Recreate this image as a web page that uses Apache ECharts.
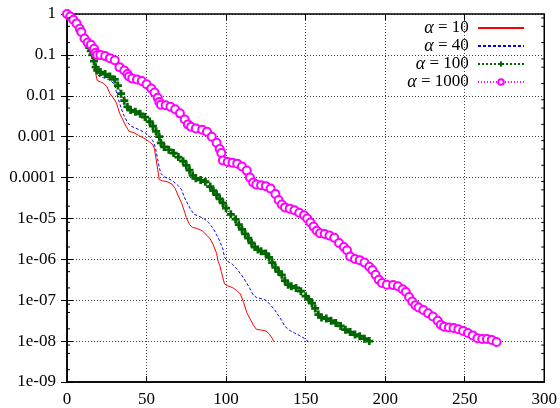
<!DOCTYPE html>
<html>
<head>
<meta charset="utf-8">
<script src="https://cdn.jsdelivr.net/npm/echarts@6/dist/echarts.min.js"></script>
<style>html,body{margin:0;padding:0;background:#fff}#c{width:560px;height:408px}</style>
</head>
<body>
<div id="c"></div>
<script>
// y values stored as log10 exponents.
const startX   = [0, 2, 4, 6, 8, 9, 11, 13];
const startLog = [0, -0.06, -0.14, -0.23, -0.36, -0.44, -0.6, -0.7];

const a10X   = [14,15,16,17,18,19,21,23,25,27,29,31,33,35,37,39,42,45,48,51,54,55,56,57,58,60,63,66,68,70,72,74,75,77,79,82,85,88,90,92,94,95,96,97,98,99,101,104,107,109,111,113,115,117,119,122,125,127,129,130];
const a10Log = [-0.84,-0.92,-1.05,-1.25,-1.45,-1.63,-1.66,-1.7,-1.77,-1.95,-2.05,-2.17,-2.42,-2.58,-2.74,-2.87,-2.9,-2.97,-3.03,-3.1,-3.2,-3.3,-3.55,-3.8,-4.05,-4.08,-4.1,-4.16,-4.27,-4.45,-4.62,-4.85,-4.98,-5.15,-5.22,-5.25,-5.3,-5.42,-5.5,-5.65,-5.85,-6.05,-6.15,-6.3,-6.45,-6.6,-6.65,-6.69,-6.77,-6.85,-7.05,-7.3,-7.45,-7.6,-7.71,-7.73,-7.75,-7.82,-7.93,-8.01];

const a40X   = [14,15,16,17,18,19,20,23,26,28,30,31,32,34,36,38,40,43,46,49,52,54,55,56,57,58,59,61,64,67,70,72,74,76,78,80,83,86,89,92,94,96,98,99,101,104,107,110,113,115,117,119,122,125,128,131,133,135,137,140,143,146,149,152];
const a40Log = [-0.82,-0.88,-1.0,-1.15,-1.3,-1.42,-1.52,-1.56,-1.6,-1.65,-1.73,-1.9,-2.05,-2.3,-2.5,-2.65,-2.74,-2.79,-2.84,-2.9,-3.0,-3.1,-3.2,-3.35,-3.55,-3.75,-3.9,-3.98,-4.03,-4.1,-4.2,-4.3,-4.5,-4.65,-4.8,-4.9,-4.95,-5.0,-5.1,-5.25,-5.4,-5.55,-5.75,-5.95,-6.05,-6.12,-6.25,-6.4,-6.58,-6.72,-6.87,-6.93,-6.96,-7.0,-7.12,-7.26,-7.38,-7.5,-7.64,-7.74,-7.8,-7.86,-7.93,-8.02];

const a100X   = [14,15,16,17,18,19,21,24,27,30,32,34,36,38,40,43,46,49,52,54,56,58,59,61,64,67,70,73,75,77,79,81,84,87,90,92,94,96,98,100,103,106,108,110,112,114,116,118,120,122,125,127,129,131,133,135,137,139,141,144,147,150,152,154,156,158,160,163,166,169,172,175,178,181,184,187,190];
const a100Log = [-0.82,-0.9,-1.0,-1.15,-1.3,-1.38,-1.42,-1.47,-1.53,-1.6,-1.75,-1.95,-2.12,-2.27,-2.35,-2.39,-2.44,-2.52,-2.63,-2.74,-2.87,-3.0,-3.15,-3.25,-3.32,-3.4,-3.5,-3.6,-3.7,-3.82,-3.95,-4.02,-4.06,-4.1,-4.22,-4.32,-4.42,-4.52,-4.62,-4.75,-4.9,-5.02,-5.15,-5.27,-5.38,-5.48,-5.6,-5.7,-5.76,-5.8,-5.86,-5.95,-6.08,-6.2,-6.3,-6.38,-6.52,-6.62,-6.66,-6.7,-6.78,-6.9,-6.98,-7.07,-7.2,-7.35,-7.42,-7.45,-7.5,-7.56,-7.63,-7.72,-7.78,-7.84,-7.88,-7.94,-8.0];

const a1000X   = [15,17,18,19,21,24,27,30,33,36,38,39,41,44,47,50,53,55,57,58,59,62,65,68,71,74,76,78,81,85,88,91,94,96,97,98,101,104,107,110,113,115,117,119,122,125,128,131,133,135,137,140,143,146,149,151,153,155,157,159,162,165,168,171,174,176,178,181,184,187,190,192,194,196,198,201,205,208,211,213,215,217,219,221,224,227,230,233,235,237,240,243,246,249,252,255,258,261,264,267,270];
const a1000Log = [-0.75,-0.85,-0.95,-1.0,-1.0,-1.03,-1.08,-1.13,-1.3,-1.38,-1.47,-1.53,-1.58,-1.6,-1.64,-1.72,-1.82,-1.92,-2.05,-2.15,-2.22,-2.23,-2.27,-2.33,-2.43,-2.58,-2.7,-2.76,-2.8,-2.83,-2.88,-3.0,-3.15,-3.3,-3.4,-3.58,-3.62,-3.64,-3.66,-3.73,-3.83,-4.0,-4.12,-4.17,-4.19,-4.21,-4.27,-4.4,-4.55,-4.66,-4.73,-4.76,-4.8,-4.86,-4.92,-5.0,-5.1,-5.2,-5.3,-5.36,-5.38,-5.42,-5.47,-5.6,-5.7,-5.78,-5.93,-5.99,-6.02,-6.08,-6.18,-6.26,-6.38,-6.5,-6.58,-6.62,-6.63,-6.66,-6.73,-6.8,-6.92,-7.03,-7.12,-7.18,-7.24,-7.32,-7.4,-7.5,-7.6,-7.65,-7.67,-7.68,-7.71,-7.75,-7.8,-7.86,-7.93,-7.95,-7.95,-7.97,-8.02];

const seriesNames = ['α = 10', 'α = 40', 'α = 100', 'α = 1000'];
const yTickLabels = ['1e-09','1e-08','1e-07','1e-06','1e-05','0.0001','0.001','0.01','0.1','1'];
const xTicks = [0, 50, 100, 150, 200, 250, 300];
const minorMantissas = [2, 5, 8];

function build(xs, logs) {
  const ax = startX.concat(xs), al = startLog.concat(logs);
  return ax.map((x, i) => [x, Math.pow(10, al[i])]);
}
const minorData = [];
for (let e = -9; e < 0; e++) minorMantissas.forEach(m => minorData.push([0, m * Math.pow(10, e)]));

const FONT = "'Liberation Serif', 'DejaVu Serif', serif";
const chart = echarts.init(document.getElementById('c'), null, {renderer: 'canvas'});
const gridLine = {show: true, lineStyle: {color: '#000', width: 1, type: [1, 2], opacity: 0.75}};

chart.setOption({
  animation: false,
  backgroundColor: '#fff',
  grid: {left: 67, right: 14, top: 14, bottom: 25, show: true, borderColor: '#000', borderWidth: 1.5, backgroundColor: 'transparent'},
  legend: {
    data: [
      {name: seriesNames[0], itemStyle: {opacity: 0}},
      {name: seriesNames[1], itemStyle: {opacity: 0}},
      {name: seriesNames[2]},
      {name: seriesNames[3]}
    ],
    orient: 'vertical',
    align: 'right',
    right: 35,
    top: 19,
    padding: 0,
    itemWidth: 46,
    itemHeight: 7,
    itemGap: 0,
    formatter: n => '{i|α} ' + n.slice(2) + ' ',
    textStyle: {fontFamily: FONT, fontSize: 17, color: '#000', rich: {i: {fontFamily: FONT, fontSize: 18, fontStyle: 'italic', color: '#000'}}}
  },
  xAxis: [{
    type: 'value', min: xTicks[0], max: xTicks[xTicks.length - 1], interval: 50,
    axisLine: {show: true, lineStyle: {color: '#000', width: 1.5}},
    axisTick: {show: true, inside: true, length: 6, lineStyle: {color: '#000'}},
    axisLabel: {fontFamily: FONT, fontSize: 17, color: '#000', margin: 9},
    splitLine: gridLine
  }, {
    type: 'value', position: 'top', min: 0, max: 300, interval: 50,
    axisLine: {show: false}, axisLabel: {show: false}, splitLine: {show: false},
    axisTick: {show: true, inside: true, length: 6, lineStyle: {color: '#000'}}
  }],
  yAxis: [{
    type: 'log', logBase: 10, min: 1e-9, max: 1, splitNumber: 9,
    axisLine: {show: true, lineStyle: {color: '#000', width: 1.5}},
    axisTick: {show: true, inside: true, length: 6, lineStyle: {color: '#000'}},
    axisLabel: {fontFamily: FONT, fontSize: 17, color: '#000', margin: 11,
      formatter: v => yTickLabels[Math.round(Math.log10(v)) + 9]},
    splitLine: gridLine
  }, {
    type: 'log', logBase: 10, min: 1e-9, max: 1, splitNumber: 9, position: 'right',
    axisLine: {show: false}, axisLabel: {show: false}, splitLine: {show: false},
    axisTick: {show: true, inside: true, length: 6, lineStyle: {color: '#000'}}
  }],
  series: [
    {name: seriesNames[0], type: 'line', data: build(a10X, a10Log), symbol: 'none',
     lineStyle: {color: '#ff0000', width: 1}, itemStyle: {color: '#ff0000'}},
    {name: seriesNames[1], type: 'line', data: build(a40X, a40Log), symbol: 'none',
     lineStyle: {color: '#0000ff', width: 1, type: [3, 2]}, itemStyle: {color: '#0000ff'}},
    {name: seriesNames[2], type: 'line', data: build(a100X, a100Log),
     symbol: 'path://M3.3,0H6.7V3.3H10V6.7H6.7V10H3.3V6.7H0V3.3H3.3Z', symbolSize: 8,
     lineStyle: {color: '#006600', width: 1, type: [2, 2]}, itemStyle: {color: '#006600'}},
    {name: seriesNames[3], type: 'line', data: build(a1000X, a1000Log),
     symbol: 'emptyCircle', symbolSize: 8,
     lineStyle: {color: '#ff00ff', width: 1, type: [1, 2]}, itemStyle: {color: '#ff00ff', borderColor: '#ff00ff', borderWidth: 1.2}},
    {type: 'custom', silent: true, data: minorData, z: 5,
     renderItem: function (params, api) {
       const p = api.coord([0, api.value(1)]);
       const cs = params.coordSys;
       return {type: 'group', children: [
         {type: 'line', shape: {x1: cs.x, y1: p[1], x2: cs.x + 3, y2: p[1]}, style: {stroke: '#000', lineWidth: 1}},
         {type: 'line', shape: {x1: cs.x + cs.width - 3, y1: p[1], x2: cs.x + cs.width, y2: p[1]}, style: {stroke: '#000', lineWidth: 1}}
       ]};
     }}
  ]
});
</script>
</body>
</html>
